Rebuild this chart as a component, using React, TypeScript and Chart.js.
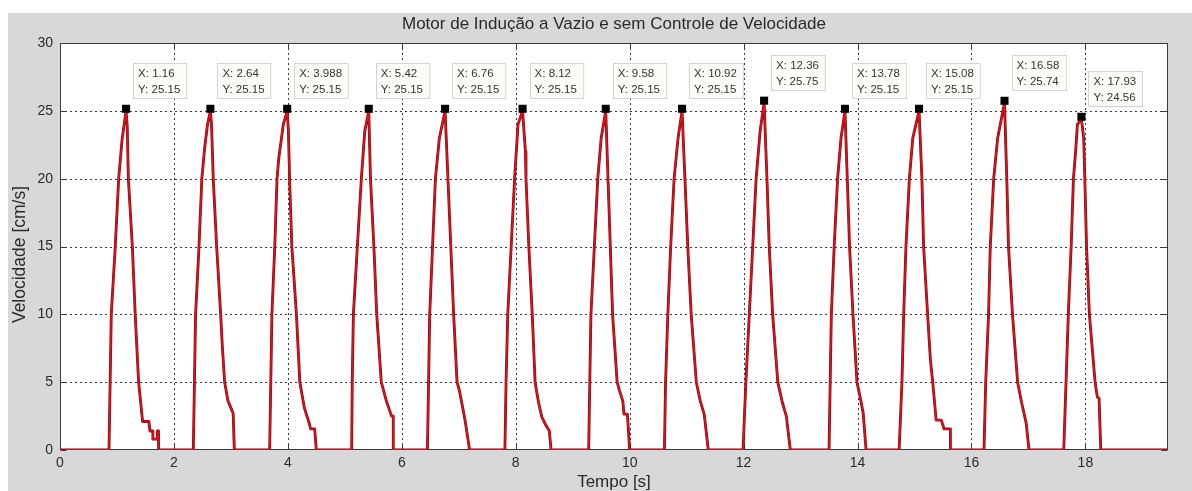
import React, { useEffect, useRef } from "react";
import { Chart, registerables } from "chart.js";

Chart.register(...registerables);

const titleText = "Motor de Indução a Vazio e sem Controle de Velocidade";
const xAxisLabel = "Tempo [s]";
const yAxisLabel = "Velocidade [cm/s]";

const xTicks = [0, 2, 4, 6, 8, 10, 12, 14, 16, 18];
const yTicks = [0, 5, 10, 15, 20, 25, 30];
const xMin = 0;
const xMax = 19.45;
const yMin = 0;
const yMax = 30;

// [time s, speed cm/s]
const restStart: [number, number][] = [[0, 0]];
const pulse1: [number, number][] = [[0.86, 0], [0.88, 5], [0.9, 10], [0.97, 15], [1.03, 20], [1.09, 22.9], [1.13, 24.1], [1.16, 25.0], [1.18, 23.9], [1.2, 20], [1.27, 15], [1.32, 10], [1.38, 5], [1.45, 2.1], [1.56, 2.1], [1.58, 1.4], [1.63, 1.4], [1.63, 0.8], [1.71, 0.8], [1.71, 1.4], [1.73, 1.4], [1.73, 0]];
const pulse2: [number, number][] = [[2.34, 0], [2.36, 5], [2.38, 10], [2.44, 15], [2.49, 20], [2.54, 22.3], [2.59, 24], [2.64, 25.0], [2.66, 24], [2.69, 20], [2.75, 15], [2.82, 10], [2.85, 7.6], [2.89, 5], [2.95, 3.6], [3.04, 2.7], [3.06, 0]];
const pulse3: [number, number][] = [[3.68, 0], [3.7, 5], [3.72, 10], [3.77, 15], [3.81, 20], [3.84, 21.5], [3.92, 24], [3.988, 25.0], [4.01, 23.5], [4.03, 20], [4.07, 15], [4.15, 10], [4.21, 5], [4.29, 3.1], [4.38, 1.9], [4.4, 1.55], [4.47, 1.55], [4.5, 0]];
const pulse4: [number, number][] = [[5.12, 0], [5.13, 5], [5.15, 10], [5.22, 15], [5.29, 20], [5.35, 23.5], [5.42, 25.0], [5.45, 20], [5.51, 15], [5.56, 10], [5.64, 5], [5.73, 3.6], [5.82, 2.5], [5.85, 2.5], [5.85, 0]];
const pulse5: [number, number][] = [[6.45, 0], [6.47, 5], [6.49, 10], [6.54, 15], [6.59, 20], [6.66, 23], [6.76, 25.0], [6.81, 20], [6.86, 15], [6.91, 10], [6.97, 5], [7.01, 4.4], [7.07, 3.1], [7.11, 2.2], [7.19, 0]];
const pulse6: [number, number][] = [[7.81, 0], [7.83, 5], [7.86, 10], [7.92, 15], [7.98, 20], [8.04, 24], [8.12, 25.0], [8.17, 22], [8.18, 20], [8.23, 15], [8.29, 10], [8.34, 5], [8.4, 3.5], [8.46, 2.4], [8.52, 1.9], [8.59, 1.4], [8.62, 0]];
const pulse7: [number, number][] = [[9.28, 0], [9.3, 5], [9.32, 10], [9.38, 15], [9.44, 20], [9.5, 23], [9.58, 25.0], [9.62, 20], [9.66, 15], [9.7, 10], [9.78, 5], [9.82, 4.4], [9.88, 3.6], [9.9, 2.65], [9.96, 2.65], [10.0, 0]];
const pulse8: [number, number][] = [[10.61, 0], [10.63, 5], [10.67, 10], [10.72, 15], [10.78, 20], [10.85, 23], [10.92, 25.0], [10.97, 20], [11.02, 15], [11.08, 10], [11.17, 5], [11.24, 3.6], [11.31, 2.6], [11.38, 0]];
const pulse9: [number, number][] = [[11.99, 0], [12.01, 2], [12.04, 5], [12.1, 10], [12.16, 15], [12.22, 20], [12.29, 23.5], [12.36, 25.6], [12.41, 20], [12.45, 15], [12.51, 10], [12.6, 5], [12.68, 3.5], [12.75, 2.5], [12.82, 0]];
const pulse10: [number, number][] = [[13.5, 0], [13.52, 5], [13.54, 10], [13.59, 15], [13.65, 20], [13.71, 23], [13.78, 25.0], [13.82, 20], [13.86, 15], [13.92, 10], [13.99, 5], [14.06, 3.6], [14.1, 2.7], [14.15, 0]];
const pulse11: [number, number][] = [[14.73, 0], [14.78, 5], [14.81, 10], [14.85, 15], [14.91, 20], [14.97, 23], [15.08, 25.0], [15.13, 20], [15.16, 15], [15.23, 10], [15.28, 6.6], [15.32, 5], [15.35, 3.6], [15.38, 2.2], [15.47, 2.2], [15.52, 1.55], [15.63, 1.55], [15.63, 0]];
const pulse12: [number, number][] = [[16.22, 0], [16.25, 5], [16.3, 10], [16.33, 15], [16.39, 20], [16.46, 23], [16.58, 25.6], [16.62, 20], [16.65, 15], [16.72, 10], [16.81, 5], [16.88, 3.5], [16.96, 2], [17.01, 0]];
const pulse13: [number, number][] = [[17.62, 0], [17.66, 5], [17.7, 10], [17.75, 15], [17.79, 20], [17.83, 22.1], [17.86, 24], [17.93, 24.4], [17.97, 23], [17.99, 20], [18.02, 15], [18.07, 10], [18.17, 5], [18.21, 3.9], [18.24, 3.8], [18.27, 0]];
const restEnd: [number, number][] = [[19.45, 0]];

// data tips
const tipX = [1.16, 2.64, 3.988, 5.42, 6.76, 8.12, 9.58, 10.92, 12.36, 13.78, 15.08, 16.58, 17.93];
const tipY = [25.15, 25.15, 25.15, 25.15, 25.15, 25.15, 25.15, 25.15, 25.75, 25.15, 25.15, 25.74, 24.56];

const FONT = '"Liberation Sans", Arial, Helvetica, sans-serif';

const series = [
  restStart, pulse1, pulse2, pulse3, pulse4, pulse5, pulse6, pulse7,
  pulse8, pulse9, pulse10, pulse11, pulse12, pulse13, restEnd,
]
  .flat()
  .map(([x, y]) => ({ x, y }));

const framePlugin = {
  id: "matlabFrame",
  beforeDraw(chart: any) {
    const { ctx, width, height, chartArea: a } = chart;
    const xs = chart.scales.x;
    const ys = chart.scales.y;
    ctx.save();
    ctx.fillStyle = "#ffffff";
    ctx.fillRect(0, 0, width, height);
    ctx.fillStyle = "#d8d8d8";
    ctx.fillRect(8, 13, width - 8, height - 13);
    ctx.fillStyle = "#ffffff";
    ctx.fillRect(a.left, a.top, a.right - a.left, a.bottom - a.top);

    // dotted grid
    ctx.strokeStyle = "rgba(20,20,20,0.85)";
    ctx.lineWidth = 1;
    ctx.setLineDash([2, 3]);
    xTicks.forEach((v) => {
      if (v <= xMin || v >= xMax) return;
      const px = Math.round(xs.getPixelForValue(v)) + 0.5;
      ctx.beginPath();
      ctx.moveTo(px, a.top);
      ctx.lineTo(px, a.bottom);
      ctx.stroke();
    });
    yTicks.forEach((v) => {
      if (v <= yMin || v >= yMax) return;
      const py = Math.round(ys.getPixelForValue(v)) + 0.5;
      ctx.beginPath();
      ctx.moveTo(a.left, py);
      ctx.lineTo(a.right, py);
      ctx.stroke();
    });
    ctx.setLineDash([]);

    // box and inward ticks
    ctx.strokeStyle = "#3a3a3a";
    ctx.lineWidth = 1;
    const L = Math.round(a.left) + 0.5;
    const R = Math.round(a.right) - 0.5;
    const T = Math.round(a.top) + 0.5;
    const B = Math.round(a.bottom) - 0.5;
    ctx.strokeRect(L, T, R - L, B - T);
    const tl = 6;
    ctx.beginPath();
    xTicks.forEach((v) => {
      const px = Math.round(xs.getPixelForValue(v)) + 0.5;
      ctx.moveTo(px, B);
      ctx.lineTo(px, B - tl);
      ctx.moveTo(px, T);
      ctx.lineTo(px, T + tl);
    });
    yTicks.forEach((v) => {
      const py = Math.round(ys.getPixelForValue(v)) + 0.5;
      ctx.moveTo(L, py);
      ctx.lineTo(L + tl, py);
      ctx.moveTo(R, py);
      ctx.lineTo(R - tl, py);
    });
    ctx.stroke();
    ctx.restore();
  },
  afterDraw(chart: any) {
    const { ctx, chartArea: a } = chart;
    const xs = chart.scales.x;
    const ys = chart.scales.y;
    ctx.save();
    // titles
    ctx.fillStyle = "#2a2a2a";
    ctx.font = `17px ${FONT}`;
    ctx.textAlign = "center";
    ctx.textBaseline = "middle";
    ctx.fillText(titleText, (a.left + a.right) / 2, 24);
    ctx.fillText(xAxisLabel, (a.left + a.right) / 2, 482);
    ctx.save();
    ctx.translate(20, (a.top + a.bottom) / 2 + 8);
    ctx.rotate(-Math.PI / 2);
    ctx.font = `17.5px ${FONT}`;
    ctx.fillText(yAxisLabel, 0, 0);
    ctx.restore();

    // data tips
    ctx.font = `11.5px ${FONT}`;
    ctx.textAlign = "left";
    tipX.forEach((xv, i) => {
      const mx = xs.getPixelForValue(xv);
      const my = ys.getPixelForValue(tipY[i]);
      const l1 = `X: ${xv}`;
      const l2 = `Y: ${tipY[i].toFixed(2)}`;
      const w = Math.max(ctx.measureText(l1).width, ctx.measureText(l2).width);
      const bx = Math.round(mx + 7) + 0.5;
      const by = Math.round(my - 46) + 0.5;
      ctx.fillStyle = "#fcfcf6";
      ctx.fillRect(bx, by, w + 11, 35);
      ctx.strokeStyle = "#d4d4d4";
      ctx.lineWidth = 1;
      ctx.strokeRect(bx, by, w + 11, 35);
      ctx.fillStyle = "#333333";
      ctx.fillText(l1, mx + 12, my - 35);
      ctx.fillText(l2, mx + 12, my - 19);
    });
    ctx.restore();
  },
};

export default function App() {
  const canvasRef = useRef<HTMLCanvasElement | null>(null);

  useEffect(() => {
    if (!canvasRef.current) return;
    const chart = new Chart(canvasRef.current, {
      type: "line",
      data: {
        datasets: [
          {
            label: "markers",
            data: tipX.map((x, i) => ({ x, y: tipY[i] })),
            showLine: false,
            pointStyle: "rect",
            pointRadius: 5.7,
            pointBorderWidth: 0,
            pointBackgroundColor: "#000000",
            borderColor: "#000000",
            order: 0,
          },
          {
            label: "velocidade",
            data: series,
            borderColor: "#f00a14",
            borderWidth: 1.6,
            borderJoinStyle: "round",
            pointRadius: 0,
            tension: 0,
            order: 1,
          },
          {
            label: "velocidade contorno",
            data: series,
            borderColor: "#661418",
            borderWidth: 2.8,
            borderJoinStyle: "round",
            pointRadius: 0,
            tension: 0,
            order: 2,
          },
        ],
      },
      options: {
        responsive: false,
        animation: false,
        devicePixelRatio: 1,
        layout: { padding: { top: 43, right: 24, left: 0, bottom: 0 } },
        plugins: {
          legend: { display: false },
          tooltip: { enabled: false },
          title: { display: false },
        },
        scales: {
          x: {
            type: "linear",
            min: xMin,
            max: xMax,
            afterBuildTicks: (scale: any) => {
              scale.ticks = xTicks.map((v) => ({ value: v }));
            },
            afterFit: (scale: any) => {
              scale.height = 41;
            },
            grid: { display: false, drawTicks: false },
            border: { display: false },
            ticks: {
              autoSkip: false,
              maxRotation: 0,
              padding: 5,
              color: "#2a2a2a",
              font: { family: FONT, size: 14 },
              callback: (v: any) => String(v),
            },
          },
          y: {
            type: "linear",
            min: yMin,
            max: yMax,
            afterBuildTicks: (scale: any) => {
              scale.ticks = yTicks.map((v) => ({ value: v }));
            },
            afterFit: (scale: any) => {
              scale.width = 60;
            },
            grid: { display: false, drawTicks: false },
            border: { display: false },
            ticks: {
              autoSkip: false,
              padding: 7,
              color: "#2a2a2a",
              font: { family: FONT, size: 14 },
              callback: (v: any) => String(v),
            },
          },
        },
      },
      plugins: [framePlugin],
    });
    return () => chart.destroy();
  }, []);

  return (
    <div style={{ position: "fixed", left: 0, top: 0, width: 1192, height: 491 }}>
      <canvas ref={canvasRef} width={1192} height={491} style={{ display: "block" }} />
    </div>
  );
}
